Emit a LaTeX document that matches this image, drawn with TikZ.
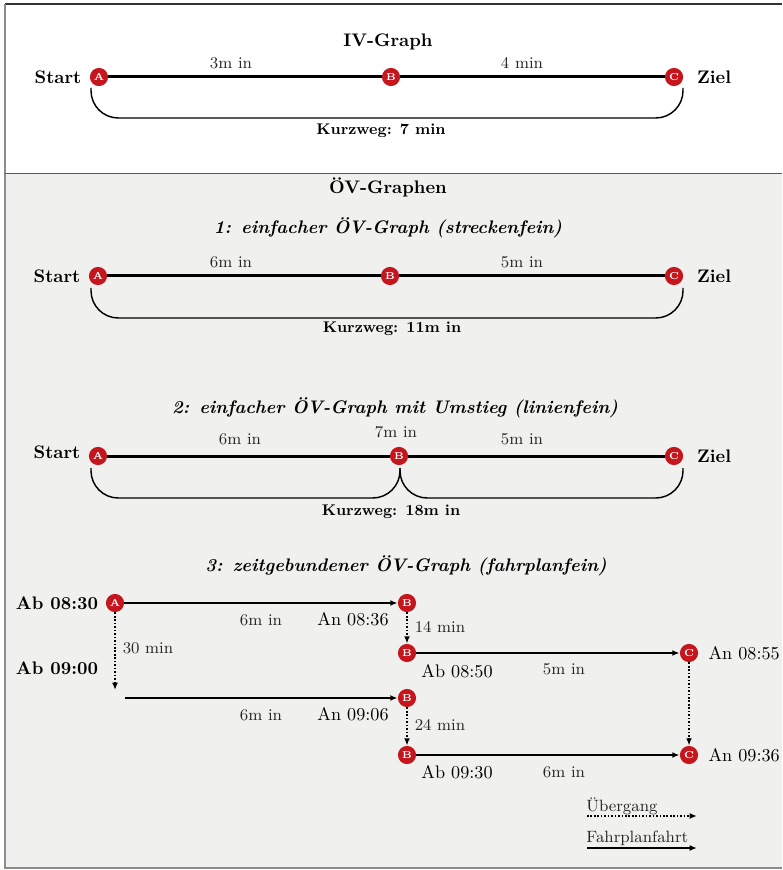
\documentclass[tikz,border=0pt]{standalone}
\usepackage{xcolor}
\usepackage{tikz}
\usetikzlibrary{arrows.meta,positioning,calc}
\definecolor{bggray}{RGB}{240,240,239}
\definecolor{stopred}{RGB}{196,22,28}

\begin{document}
\begin{tikzpicture}[
    x=0.55pt, y=-0.55pt,
    stop/.style={circle, fill=stopred, text=white, inner sep=0pt, minimum size=10pt, font=\fontsize{5.5}{5.5}\selectfont\bfseries},
    term/.style={font=\bfseries},
    cost/.style={font=\small, text=black!85},
    title/.style={font=\bfseries},
    subtitle/.style={font=\bfseries\itshape},
    total/.style={font=\fontsize{8.5}{10}\selectfont\bfseries},
    track/.style={line width=1.65pt},
    brace/.style={line width=0.8pt, rounded corners=15pt},
    ride/.style={-{Latex[length=4pt,width=3.2pt]}, line width=0.8pt},
    transfer/.style={-{Latex[length=4pt,width=3.2pt]}, line width=0.9pt, densely dotted},
    time/.style={font=\normalsize}
  ]
    \useasboundingbox (0,0) rectangle (782,870);
    % frame
    \fill[white] (5,4) rectangle (782,173);
    \fill[bggray] (5,173) rectangle (782,868);
    \draw[black!80, line width=1.1pt] (5,4) -- (782,4);
    \draw[black!45, line width=0.6pt] (5,4) -- (5,868) -- (782,868);
    \draw[black!65, line width=0.5pt] (5,173) -- (782,173);

    % IV-Graph
    \node[title] (ivtitle) at (388,42) {IV-Graph};
    \node[stop] (iva) at (99,77) {A};
    \node[stop] (ivb) at (391,77) {B};
    \node[stop] (ivc) at (674,77) {C};
    \node[term, left=1pt of iva] (ivstart) {Start};
    \node[term, right=4pt of ivc] (ivziel) {Ziel};
    \draw[track] (iva) -- (ivb) -- (ivc);
    \node[cost] (ivab) at (231,63) {3m in};
    \node[cost] (ivbc) at (522,63) {4 min};
    \draw[brace] (91,88) -- (91,118) -- (683,118) -- (683,88);
    \node[total] (ivsum) at (381,131) {Kurzweg: 7 min};

    \node[title] (ovtitle) at (388,187) {ÖV-Graphen};

    % 1: streckenfein
    \node[subtitle] (onetitle) at (388,228) {1: einfacher ÖV-Graph (streckenfein)};
    \node[stop] (onea) at (98,276) {A};
    \node[stop] (oneb) at (390,276) {B};
    \node[stop] (onec) at (674,276) {C};
    \node[term, left=1pt of onea] (onestart) {Start};
    \node[term, right=4pt of onec] (oneziel) {Ziel};
    \draw[track] (onea) -- (oneb) -- (onec);
    \node[cost] (oneab) at (231,262) {6m in};
    \node[cost] (onebc) at (522,262) {5m in};
    \draw[brace] (91,288) -- (91,318) -- (683,318) -- (683,288);
    \node[total] (onesum) at (392,329) {Kurzweg: 11m in};

    % 2: linienfein
    \node[subtitle] (twotitle) at (395,408) {2: einfacher ÖV-Graph mit Umstieg (linienfein)};
    \node[stop] (twoa) at (98,456) {A};
    \node[stop] (twob) at (399,456) {B};
    \node[stop] (twoc) at (674,456) {C};
    \node[term, left=1pt of twoa, yshift=2pt] (twostart) {Start};
    \node[term, right=4pt of twoc] (twoziel) {Ziel};
    \draw[track] (twoa) -- (twob) -- (twoc);
    \node[cost] (twoab) at (240,439) {6m in};
    \node[cost] (twowait) at (396,432) {7m in};
    \node[cost] (twobc) at (522,439) {5m in};
    \draw[brace] (91,468) -- (91,498) -- (400,498) -- (400,468);
    \draw[brace] (400,468) -- (400,498) -- (683,498) -- (683,468);
    \node[total] (twosum) at (391,512) {Kurzweg: 18m in};

    % 3: fahrplanfein
    \node[subtitle] (threetitle) at (406,566) {3: zeitgebundener ÖV-Graph (fahrplanfein)};
    \node[stop] (a1) at (115,603) {A};
    \node[stop] (b1) at (407,603) {B};
    \node[stop] (b2) at (407,653) {B};
    \node[stop] (c1) at (689,653) {C};
    \node[stop] (b3) at (407,698) {B};
    \node[stop] (b4) at (407,755) {B};
    \node[stop] (c2) at (689,755) {C};
    \coordinate (await) at (115,690);
    \coordinate (a2) at (125,698);

    \draw[ride] (a1) -- (b1);
    \draw[transfer] (a1) -- (await);
    \draw[transfer] (b1) -- (b2);
    \draw[ride] (b2) -- (c1);
    \draw[ride] (a2) -- (b3);
    \draw[transfer] (b3) -- (b4);
    \draw[ride] (b4) -- (c2);
    \draw[transfer] (c1) -- (c2);

    \node[term] (dep1) at (57,603) {Ab 08:30};
    \node[term] (dep2) at (57,668) {Ab 09:00};
    \node[cost] (wait1) at (148,648) {30 min};
    \node[cost] (ab1) at (261,620) {6m in};
    \node[time] (arr1) at (353,619) {An 08:36};
    \node[cost] (wait2) at (440,627) {14 min};
    \node[time] (dep3) at (457,671) {Ab 08:50};
    \node[cost] (bc1) at (564,669) {5m in};
    \node[time, right=2pt of c1] (arr2) {An 08:55};
    \node[cost] (ab2) at (261,715) {6m in};
    \node[time] (arr3) at (353,714) {An 09:06};
    \node[cost] (wait3) at (440,725) {24 min};
    \node[time] (dep4) at (457,772) {Ab 09:30};
    \node[cost] (bc2) at (564,772) {6m in};
    \node[time, right=2pt of c2] (arr4) {An 09:36};

    % legend
    \coordinate (lg1s) at (587,816);
    \coordinate (lg1e) at (697,816);
    \coordinate (lg2s) at (587,848);
    \coordinate (lg2e) at (697,848);
    \draw[transfer] (lg1s) -- (lg1e);
    \draw[ride] (lg2s) -- (lg2e);
    \node[cost, anchor=west] (lgtransfer) at (580,806) {Übergang};
    \node[cost, anchor=west] (lgride) at (580,838) {Fahrplanfahrt};
  \end{tikzpicture}
\end{document}
